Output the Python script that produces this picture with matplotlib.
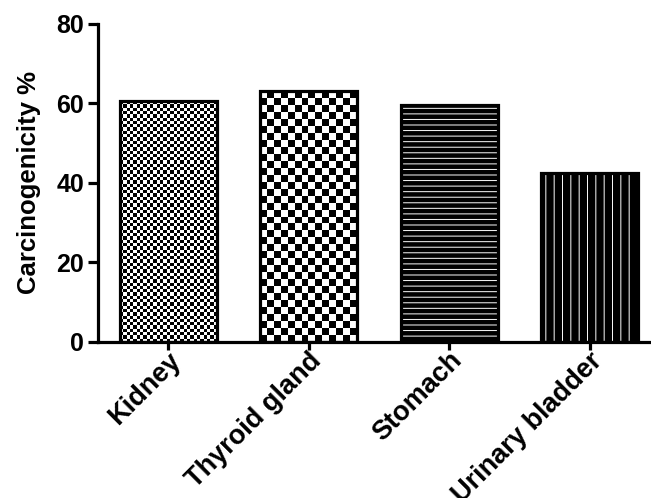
import numpy as np
import matplotlib
matplotlib.use("Agg")
import matplotlib.pyplot as plt

# data
organs = ["Kidney", "Thyroid gland", "Stomach", "Urinary bladder"]
carcinogenicity = [60.6, 63.1, 59.7, 42.5]
yticks = [0, 20, 40, 60, 80]

plt.rcParams["font.family"] = ["Liberation Sans", "DejaVu Sans"]
plt.rcParams["font.weight"] = "bold"
plt.rcParams["hatch.color"] = "white"
plt.rcParams["hatch.linewidth"] = 0.7

fig = plt.figure(figsize=(6.51, 4.98), dpi=100)
ax = fig.add_axes([0.1505, 0.3133, 0.8633, 0.6386])

x = np.arange(len(organs))
width = 0.69
bars = ax.bar(x, carcinogenicity, width=width, color="white", edgecolor="none", zorder=2)

ax.set_xlim(-0.5, 3.5)
ax.set_ylim(0, 80)

# textures: two checkerboards, then horizontal and vertical stripes
checker_px = [3.3, 7.0, None, None]
hatches = [None, None, "---", "||"]
fig.canvas.draw()
trans = ax.transData
for bar, sq, h in zip(bars, checker_px, hatches):
    x0, y0 = bar.get_x(), bar.get_y()
    w, ht = bar.get_width(), bar.get_height()
    if sq is not None:
        p0 = trans.transform((x0, y0))
        p1 = trans.transform((x0 + w, y0 + ht))
        nx = max(1, int(round((p1[0] - p0[0]) / sq)))
        ny = max(1, int(round((p1[1] - p0[1]) / sq)))
        iy, ix = np.indices((ny, nx))
        board = ((ix + iy) % 2).astype(float)
        im = ax.imshow(board, cmap="gray", vmin=0, vmax=1, interpolation="nearest",
                       extent=(x0, x0 + w, y0, y0 + ht), origin="lower",
                       aspect="auto", zorder=2.5)
        im.set_clip_path(bar)
    else:
        ax.bar(bar.get_x() + w / 2, ht, width=w, color="black", edgecolor="white",
               linewidth=0, hatch=h, zorder=2.5)

# outlines
ax.bar(x, carcinogenicity, width=width, color="none", edgecolor="black",
       linewidth=2.3, zorder=3)

ax.set_xlim(-0.5, 3.5)
ax.set_ylim(0, 80)
ax.set_aspect("auto")

ax.set_yticks(yticks)
ax.set_xticks(x)
ax.set_xticklabels(organs, rotation=45, ha="right", va="top",
                   rotation_mode="anchor", fontsize=19.5, fontweight="bold")
ax.tick_params(axis="y", labelsize=18, width=2.3, length=7, direction="out", pad=3)
ax.tick_params(axis="x", width=2.3, length=5.5, direction="out", pad=-1.5)
for lab in ax.get_yticklabels():
    lab.set_fontweight("bold")

ax.set_ylabel("Carcinogenicity %", fontsize=18.5, fontweight="bold", labelpad=11)

for s in ["top", "right"]:
    ax.spines[s].set_visible(False)
for s in ["left", "bottom"]:
    ax.spines[s].set_linewidth(2.3)

fig.savefig("out.png", dpi=100)
